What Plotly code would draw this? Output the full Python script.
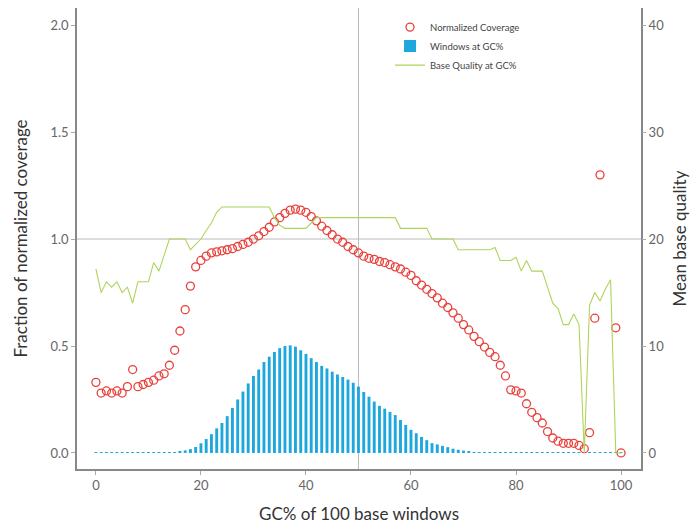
import plotly.graph_objects as go

gc = list(range(0, 101))

normalized_coverage = [
    0.33, 0.28, 0.29, 0.28, 0.29, 0.28, 0.31, 0.39, 0.31, 0.32,
    0.33, 0.34, 0.36, 0.37, 0.41, 0.48, 0.57, 0.67, 0.78, 0.87,
    0.90, 0.92, 0.935, 0.94, 0.945, 0.95, 0.955, 0.965, 0.975, 0.985,
    1.0, 1.015, 1.035, 1.055, 1.08, 1.10, 1.12, 1.135, 1.14, 1.135,
    1.125, 1.105, 1.085, 1.06, 1.04, 1.02, 1.0, 0.985, 0.965, 0.95,
    0.935, 0.92, 0.91, 0.905, 0.895, 0.89, 0.88, 0.87, 0.86, 0.845,
    0.83, 0.805, 0.785, 0.765, 0.745, 0.725, 0.70, 0.68, 0.655, 0.63,
    0.60, 0.575, 0.545, 0.52, 0.495, 0.47, 0.45, 0.41, 0.36, 0.295,
    0.29, 0.28, 0.23, 0.19, 0.165, 0.14, 0.10, 0.07, 0.055, 0.045,
    0.045, 0.045, 0.035, 0.02, 0.095, 0.63, 1.30, None, None, 0.585,
    0.0,
]

windows_at_gc = [
    0.003, 0.003, 0.003, 0.003, 0.003, 0.003, 0.003, 0.003, 0.003, 0.003,
    0.003, 0.003, 0.003, 0.003, 0.003, 0.003, 0.005, 0.012, 0.018, 0.028,
    0.045, 0.065, 0.088, 0.115, 0.14, 0.172, 0.21, 0.25, 0.287, 0.325,
    0.36, 0.39, 0.425, 0.45, 0.472, 0.49, 0.50, 0.503, 0.497, 0.48,
    0.463, 0.443, 0.425, 0.407, 0.395, 0.38, 0.367, 0.355, 0.343, 0.328,
    0.31, 0.285, 0.263, 0.24, 0.22, 0.207, 0.192, 0.177, 0.154, 0.131,
    0.108, 0.092, 0.075, 0.06, 0.046, 0.04, 0.033, 0.027, 0.02, 0.015,
    0.011, 0.009, 0.003, 0.003, 0.003, 0.003, 0.003, 0.003, 0.003, 0.003,
    0.003, 0.003, 0.003, 0.003, 0.003, 0.003, 0.003, 0.003, 0.003, 0.003,
    0.003, 0.003, 0.003, 0.003, 0.003, 0.003, 0.003, 0.003, 0.003, 0.003,
    0.003,
]

base_quality = [
    17.2, 15.0, 16.0, 15.5, 16.0, 15.0, 15.5, 14.0, 16.0, 16.0,
    16.0, 17.8, 17.0, 18.5, 20.0, 20.0, 20.0, 20.0, 19.0, 19.5,
    20.0, 20.8, 21.5, 22.5, 23.0, 23.0, 23.0, 23.0, 23.0, 23.0,
    23.0, 23.0, 23.0, 23.0, 22.0, 21.3, 21.0, 21.0, 21.0, 21.0,
    21.0, 21.5, 22.0, 22.0, 22.0, 22.0, 22.0, 22.0, 22.0, 22.0,
    22.0, 22.0, 22.0, 22.0, 22.0, 22.0, 22.0, 22.0, 21.0, 21.0,
    21.0, 21.0, 21.0, 21.0, 20.0, 20.0, 20.0, 20.0, 20.0, 19.0,
    19.0, 19.0, 19.0, 19.0, 19.0, 19.0, 19.2, 18.0, 18.0, 18.0,
    18.3, 17.0, 18.0, 17.0, 17.0, 17.0, 15.5, 14.0, 13.5, 12.0,
    12.0, 13.0, 12.0, 0.0, 13.8, 15.0, 14.2, 15.3, 16.2, 0.0,
    0.0,
]

left_ticks = [0.0, 0.5, 1.0, 1.5, 2.0]
left_labels = ["0.0", "0.5", "1.0", "1.5", "2.0"]
right_ticks = [0, 10, 20, 30, 40]
x_ticks = [0, 20, 40, 60, 80, 100]

FONT = "Lato, 'Open Sans', sans-serif"
AXIS_COLOR = "#888888"

fig = go.Figure()

fig.add_trace(go.Scatter(
    x=gc, y=normalized_coverage, name="Normalized Coverage",
    mode="markers",
    marker=dict(symbol="circle-open", size=8, color="#e8413c",
                line=dict(width=1.3, color="#e8413c")),
    yaxis="y",
))

fig.add_trace(go.Bar(
    x=gc, y=windows_at_gc, name="Windows at GC%",
    marker=dict(color="#1ea7dc", line=dict(width=0)),
    width=0.55, yaxis="y",
))

fig.add_trace(go.Scatter(
    x=gc, y=base_quality, name="Base Quality at GC%",
    mode="lines", line=dict(color="#aed45a", width=1.1),
    yaxis="y2",
))

fig.update_layout(
    width=690, height=522,
    margin=dict(l=69, r=57, t=0, b=61, autoexpand=False),
    paper_bgcolor="white", plot_bgcolor="white",
    font=dict(family=FONT, color="#555555"),
    showlegend=True,
    legend=dict(
        x=0.555, y=0.99, xanchor="left", yanchor="top",
        bgcolor="rgba(0,0,0,0)", font=dict(size=9.5, color="#444444"),
        traceorder="normal", itemwidth=30, tracegroupgap=0,
    ),
    xaxis=dict(
        range=[-3.6, 103.8], tickvals=x_ticks,
        ticks="outside", ticklen=4, tickcolor="#aaaaaa",
        showgrid=False, zeroline=False,
        showline=True, linecolor=AXIS_COLOR, linewidth=1.5, mirror=True,
        tickfont=dict(size=13, color="#666666"),
        title=dict(text="GC% of 100 base windows", font=dict(size=17, color="#333333"), standoff=16),
    ),
    yaxis=dict(
        range=[-0.075, 2.08], tickvals=left_ticks, ticktext=left_labels,
        ticks="outside", ticklen=4, tickcolor="#aaaaaa",
        showgrid=False, zeroline=False,
        showline=True, linecolor=AXIS_COLOR, linewidth=1.5, mirror=True,
        tickfont=dict(size=13, color="#666666"),
        title=dict(text="Fraction of normalized coverage", font=dict(size=17, color="#333333"), standoff=19),
    ),
    yaxis2=dict(
        range=[-1.5, 41.6], tickvals=right_ticks,
        overlaying="y", side="right",
        ticks="outside", ticklen=4, tickcolor="#aaaaaa",
        showgrid=False, zeroline=False, showline=False,
        tickfont=dict(size=13, color="#666666"),
        title=dict(text="Mean base quality", font=dict(size=17, color="#333333"), standoff=10),
    ),
    shapes=[
        dict(type="line", xref="x", yref="paper", x0=50, x1=50, y0=0, y1=1,
             line=dict(color="#bbbbbb", width=1), layer="below"),
        dict(type="line", xref="paper", yref="y", x0=0, x1=1, y0=1.0, y1=1.0,
             line=dict(color="#bbbbbb", width=1), layer="below"),
    ],
)

fig.write_html("out.html")
